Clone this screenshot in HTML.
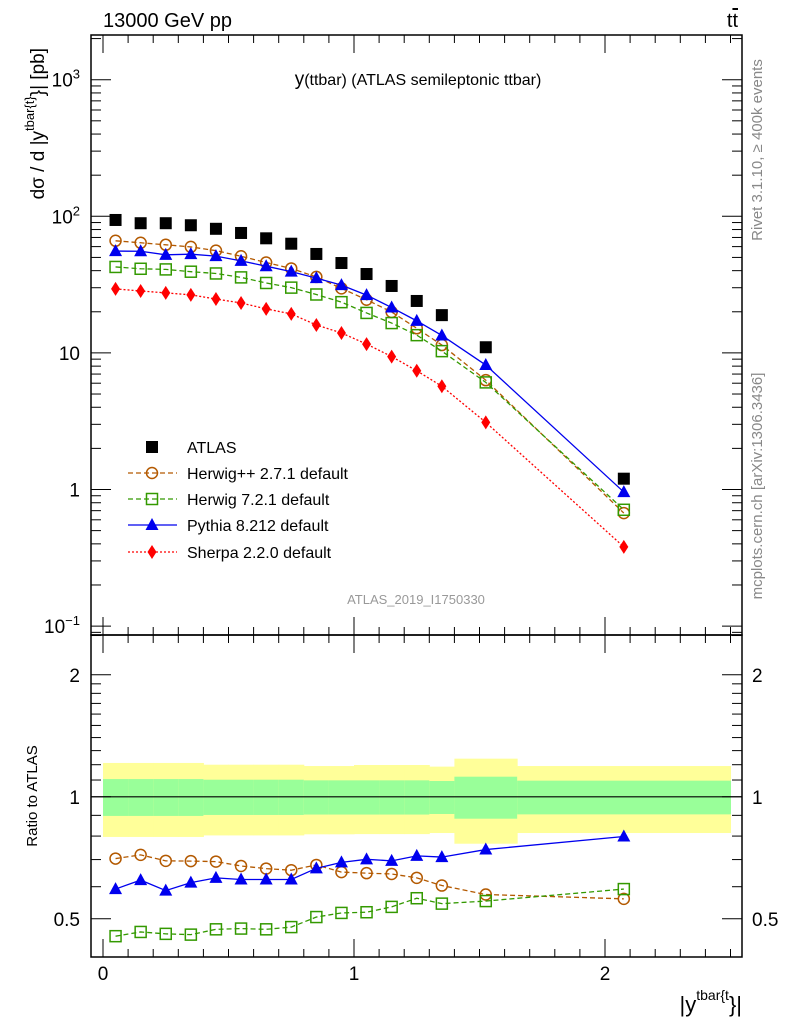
<!DOCTYPE html>
<html><head><meta charset="utf-8"><style>
body{margin:0;background:#fff}
svg{display:block;font-family:"Liberation Sans",sans-serif}
</style></head><body>
<svg id="c" width="786" height="1024" viewBox="0 0 786 1024" xmlns="http://www.w3.org/2000/svg">
<g id="bands"></g><g id="axes"></g><g id="series"></g><g id="labels"></g>
</svg>
<script>
const xCenters=[0.05,0.15,0.25,0.35,0.45,0.55,0.65,0.75,0.85,0.95,1.05,1.15,1.25,1.35,1.525,2.075];
const binLo=[0,0.1,0.2,0.3,0.4,0.5,0.6,0.7,0.8,0.9,1.0,1.1,1.2,1.3,1.4,1.65];
const binHi=[0.1,0.2,0.3,0.4,0.5,0.6,0.7,0.8,0.9,1.0,1.1,1.2,1.3,1.4,1.65,2.5];
const atlas=[94,89,89,86,81,75.5,69,63,53,45.5,37.8,30.9,24,18.9,11,1.2];
const herwigppRatio=[0.704,0.719,0.695,0.694,0.692,0.675,0.665,0.659,0.679,0.652,0.648,0.645,0.631,0.604,0.574,0.560];
const herwig7Ratio=[0.453,0.464,0.459,0.457,0.471,0.473,0.471,0.477,0.505,0.517,0.519,0.535,0.562,0.545,0.553,0.592];
const pythiaRatio=[0.592,0.623,0.587,0.614,0.631,0.625,0.625,0.625,0.666,0.689,0.701,0.695,0.715,0.710,0.741,0.798];
const sherpa=[29.4,28.4,27.5,26.6,24.8,23.2,21,19.3,16,14,11.6,9.4,7.4,5.7,3.1,0.38];
const yellowHi=[1.212,1.212,1.212,1.212,1.20,1.20,1.20,1.20,1.191,1.191,1.198,1.198,1.198,1.187,1.242,1.191];
const yellowLo=[0.796,0.796,0.796,0.796,0.803,0.803,0.803,0.803,0.808,0.808,0.809,0.809,0.809,0.814,0.766,0.814];
const greenHi=[1.106,1.106,1.106,1.106,1.102,1.102,1.102,1.102,1.098,1.098,1.098,1.098,1.098,1.094,1.121,1.096];
const greenLo=[0.897,0.897,0.897,0.897,0.902,0.902,0.902,0.902,0.904,0.904,0.904,0.904,0.904,0.907,0.883,0.905];
const pythiaErr=[0,0,0,0,0,0,0,0,0,0,0.01,0.012,0.012,0.013,0.01,0.018];

const NS='http://www.w3.org/2000/svg';
const L=91,R=742,T1=35,B1=635,T2=635,B2=957;
const X=v=>103+v*251;
const Y1=v=>79.7-(Math.log10(v)-3)*136.6;
const Y2=v=>796.8-Math.log2(v)*122;
function el(tag,attrs,parent){const e=document.createElementNS(NS,tag);for(const k in attrs)e.setAttribute(k,attrs[k]);(parent||document.getElementById('series')).appendChild(e);return e;}
const herwigpp=atlas.map((a,i)=>a*herwigppRatio[i]);
const herwig7=atlas.map((a,i)=>a*herwig7Ratio[i]);
const pythia=atlas.map((a,i)=>a*pythiaRatio[i]);
const bands=document.getElementById('bands'),axes=document.getElementById('axes'),labs=document.getElementById('labels');

// bands
for(let i=0;i<xCenters.length;i++){
 let r=el('rect',{x:X(binLo[i]),y:Y2(yellowHi[i]),width:X(binHi[i])-X(binLo[i])+0.5,height:Y2(yellowLo[i])-Y2(yellowHi[i]),fill:'#ffff99'},bands);
 
 
 let g=el('rect',{x:X(binLo[i]),y:Y2(greenHi[i]),width:X(binHi[i])-X(binLo[i])+0.5,height:Y2(greenLo[i])-Y2(greenHi[i]),fill:'#99ff99'},bands);
 
 
}
let ref=el('line',{x1:L,x2:R,y1:Y2(1),y2:Y2(1),stroke:'#000','stroke-width':1.2},bands);



// frames
for(const [t,b,n] of [[T1,B1,'main-frame'],[T2,B2,'ratio-frame']]){
 let f=el('rect',{x:L,y:t,width:R-L,height:b-t,fill:'none',stroke:'#000','stroke-width':1.5},axes);
 
 
}
// x ticks
for(let k=0;k<=25;k++){const v=k/10,x=X(v);const big=k%10==0;const len=big?18:8;
 for(const [t,b] of [[T1,B1],[T2,B2]]){el('line',{x1:x,x2:x,y1:b,y2:b-len,stroke:'#000','stroke-width':1},axes);el('line',{x1:x,x2:x,y1:t,y2:t+len,stroke:'#000','stroke-width':1},axes);}
}
// main y ticks
for(let e=-2;e<=3;e++)for(let m=1;m<=9;m++){const v=m*Math.pow(10,e);const y=Y1(v);if(y<T1||y>B1)continue;const len=m==1?20:10;
 el('line',{x1:L,x2:L+len,y1:y,y2:y,stroke:'#000'},axes);el('line',{x1:R,x2:R-len,y1:y,y2:y,stroke:'#000'},axes);}
// ratio y ticks
const rt=[0.4,0.5,0.6,0.7,0.8,0.9,1,1.1,1.2,1.3,1.4,1.5,1.6,1.7,1.8,1.9,2,2.5];
for(const v of rt){const y=Y2(v);if(y<T2||y>B2)continue;const len=(v==0.5||v==1||v==2)?20:10;
 el('line',{x1:L,x2:L+len,y1:y,y2:y,stroke:'#000'},axes);el('line',{x1:R,x2:R-len,y1:y,y2:y,stroke:'#000'},axes);}

function txt(s,attrs,name){const t=el('text',attrs,labs);t.innerHTML=s;return t;}
// tick labels
const mainTicks=[[1000,'10<tspan dy="-8" font-size="13">3</tspan>'],[100,'10<tspan dy="-8" font-size="13">2</tspan>'],[10,'10'],[1,'1'],[0.1,'10<tspan dy="-8" font-size="13">−1</tspan>']];
for(const [v,s] of mainTicks)txt(s,{x:80,y:Y1(v)+7,'font-size':19,'text-anchor':'end'},'y-tick-label');
for(const v of [2,1,0.5]){txt(String(v),{x:80,y:Y2(v)+7,'font-size':19,'text-anchor':'end'},'ratio-tick-label');txt(String(v),{x:752,y:Y2(v)+7,'font-size':19},'ratio-tick-label-right');}
for(const v of [0,1,2])txt(String(v),{x:X(v),y:980,'font-size':19,'text-anchor':'middle'},'x-tick-label');
txt('13000 GeV pp',{x:103,y:27,'font-size':20},'energy-label');
txt('t<tspan text-decoration="overline">t</tspan>',{x:738,y:27,'font-size':20,'text-anchor':'end'},'process-label');
txt('y<tspan font-size="16">(ttbar) (ATLAS semileptonic ttbar)</tspan>',{x:418,y:85,'font-size':19,'text-anchor':'middle'},'plot-title');
txt('dσ / d |y<tspan dy="-10" font-size="13">tbar{t}</tspan><tspan dy="10">}| [pb]</tspan>',{x:0,y:0,'font-size':19,'text-anchor':'end',transform:'translate(44,48) rotate(-90)'},'y-axis-title');
txt('Ratio to ATLAS',{x:0,y:0,'font-size':15,'text-anchor':'middle',transform:'translate(37,796) rotate(-90)'},'ratio-axis-title');
txt('|y<tspan dy="-12" font-size="14">tbar{t</tspan><tspan dy="12">}|</tspan>',{x:742,y:1012,'font-size':22,'text-anchor':'end'},'x-axis-title');
txt('Rivet 3.1.10, ≥ 400k events',{x:0,y:0,'font-size':15,fill:'#888','text-anchor':'middle',transform:'translate(762,150) rotate(-90)'},'rivet-label');
txt('mcplots.cern.ch [arXiv:1306.3436]',{x:0,y:0,'font-size':15,fill:'#888','text-anchor':'middle',transform:'translate(762,486) rotate(-90)'},'mcplots-label');
txt('ATLAS_2019_I1750330',{x:416,y:604,'font-size':13,fill:'#999','text-anchor':'middle'},'analysis-watermark');

// markers
function marker(type,x,y,col,name){let m;
 if(type=='sq')m=el('rect',{x:x-6,y:y-6,width:12,height:12,fill:'#000'});
 else if(type=='circ')m=el('circle',{cx:x,cy:y,r:5.5,fill:'none',stroke:col,'stroke-width':1.5});
 else if(type=='osq')m=el('rect',{x:x-5.5,y:y-5.5,width:11,height:11,fill:'none',stroke:col,'stroke-width':1.5});
 else if(type=='tri')m=el('polygon',{points:`${x},${y-7} ${x-6.5},${y+5} ${x+6.5},${y+5}`,fill:col});
 else m=el('polygon',{points:`${x},${y-7} ${x-4.5},${y} ${x},${y+7} ${x+4.5},${y}`,fill:col});
 
 
}
function series(vals,Yf,type,col,dash,name,line){
 if(line){const p=el('polyline',{points:vals.map((v,i)=>X(xCenters[i])+','+Yf(v)).join(' '),fill:'none',stroke:col,'stroke-width':1.3,'stroke-dasharray':dash});
 
 }
 vals.forEach((v,i)=>{if(Yf(v)>B2)return;marker(type,X(xCenters[i]),Yf(v),col,name+'-point');});
}
series(herwigpp,Y1,'circ','#b35900','5,3','herwigpp',true);
series(herwig7,Y1,'osq','#339900','5,3','herwig7',true);
series(pythia,Y1,'tri','#0000ee','','pythia',true);
series(sherpa,Y1,'dia','#ff0000','2,2','sherpa',true);
series(atlas,Y1,'sq','#000','','atlas',false);
series(herwigppRatio,Y2,'circ','#b35900','5,3','herwigpp-ratio',true);
series(herwig7Ratio,Y2,'osq','#339900','5,3','herwig7-ratio',true);
series(pythiaRatio,Y2,'tri','#0000ee','','pythia-ratio',true);
pythiaErr.forEach((e,i)=>{if(!e)return;const x=X(xCenters[i]);const b=el('line',{x1:x,x2:x,y1:Y2(pythiaRatio[i]+e),y2:Y2(pythiaRatio[i]-e),stroke:'#0000ee','stroke-width':1.3});
 
 });

// legend
const leg=[['ATLAS','sq','#000',''],['Herwig++ 2.7.1 default','circ','#b35900','5,3'],['Herwig 7.2.1 default','osq','#339900','5,3'],['Pythia 8.212 default','tri','#0000ee',''],['Sherpa 2.2.0 default','dia','#ff0000','2,2']];
const legY=[447,473,499,525,552];
leg.forEach((l,i)=>{const y=legY[i];
 if(i>0){const ln=el('line',{x1:128,x2:177,y1:y,y2:y,stroke:l[2],'stroke-width':1.3,'stroke-dasharray':l[3]});
 
 }
 marker(l[1],152,y,l[2],'legend-marker');
 txt(l[0],{x:187,y:y+6,'font-size':16},'legend-entry');
});
</script>
</body></html>
